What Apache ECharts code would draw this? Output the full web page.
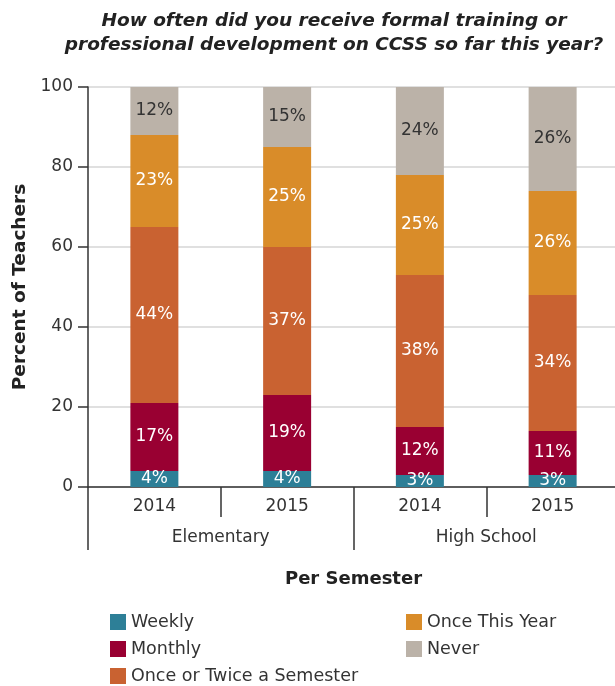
<!DOCTYPE html>
<html>
<head>
<meta charset="utf-8">
<script src="https://cdn.jsdelivr.net/npm/echarts@6/dist/echarts.min.js"></script>
<style>
  html, body { margin: 0; padding: 0; background: #fff; }
  #chart { width: 615px; height: 686px; }
</style>
</head>
<body>
<div id="chart"></div>
<script>
// Survey years, one bar per year within each school level
const years = ['2014', '2015', '2014', '2015'];
const levels = ['Elementary', 'High School'];
const yTicks = [0, 20, 40, 60, 80, 100];

// Share of teachers (%) for each frequency, stacked bottom to top
const weekly = [4, 4, 3, 3];
const monthly = [17, 19, 12, 11];
const onceTwiceSemester = [44, 37, 38, 34];
const onceThisYear = [23, 25, 25, 26];
const never = [12, 15, 24, 26];

const FONT = '"DejaVu Sans", sans-serif';
const TEXT = '#333333';

const seriesDefs = [
  { name: 'Weekly', data: weekly, color: '#2d7f97', label: '#ffffff' },
  { name: 'Monthly', data: monthly, color: '#990032', label: '#ffffff' },
  { name: 'Once or Twice a Semester', data: onceTwiceSemester, color: '#c96231', label: '#ffffff' },
  { name: 'Once This Year', data: onceThisYear, color: '#d98c29', label: '#ffffff' },
  { name: 'Never', data: never, color: '#bbb2a8', label: '#333333' }
];

const legendText = { fontFamily: FONT, fontSize: 17.5, color: TEXT };

const legendBase = {
  orient: 'vertical',
  top: 613,
  height: 110,
  padding: 0,
  itemWidth: 16,
  itemHeight: 16,
  itemGap: 9,
  icon: 'rect',
  textStyle: legendText
};

const chart = echarts.init(document.getElementById('chart'));

chart.setOption({
  animation: false,
  textStyle: { fontFamily: FONT },
  title: {
    text: 'How often did you receive formal training or\nprofessional development on CCSS so far this year?',
    left: 329,
    top: 4,
    textAlign: 'center',
    textStyle: {
      fontFamily: FONT,
      fontSize: 18.5,
      fontStyle: 'italic',
      fontWeight: 'bold',
      color: '#222222',
      lineHeight: 24
    }
  },
  legend: [
    Object.assign({}, legendBase, {
      data: ['Weekly', 'Monthly', 'Once or Twice a Semester'],
      left: 110
    }),
    Object.assign({}, legendBase, {
      data: ['Once This Year', 'Never'],
      left: 406
    })
  ],
  // the plot runs a few pixels past the right edge of the page
  grid: {
    left: 88, width: 531, top: 87, height: 400,
    containLabel: false,
    outerBoundsMode: 'none'
  },
  xAxis: [
    {
      type: 'category',
      data: years,
      position: 'bottom',
      axisLine: { show: true, lineStyle: { color: '#333333', width: 1.5 } },
      axisTick: { show: true, length: 30, lineStyle: { color: '#333333', width: 1.5 } },
      axisLabel: { fontFamily: FONT, fontSize: 17, color: TEXT, margin: 11 },
      splitLine: { show: false }
    },
    {
      type: 'category',
      data: levels,
      position: 'bottom',
      axisLine: { show: false },
      axisTick: { show: true, length: 63, lineStyle: { color: '#333333', width: 1.5 } },
      axisLabel: { fontFamily: FONT, fontSize: 17, color: TEXT, margin: 42 },
      name: 'Per Semester',
      nameLocation: 'middle',
      nameGap: 83,
      nameTextStyle: { fontFamily: FONT, fontSize: 18, fontWeight: 'bold', color: '#222222' }
    }
  ],
  yAxis: {
    type: 'value',
    min: 0,
    max: 100,
    interval: 20,
    name: 'Percent of Teachers',
    nameLocation: 'middle',
    nameGap: 58,
    nameTextStyle: { fontFamily: FONT, fontSize: 18.5, fontWeight: 'bold', color: '#222222' },
    axisLine: { show: true, lineStyle: { color: '#333333', width: 1.5 } },
    axisTick: { show: true, inside: false, length: 10, lineStyle: { color: '#333333', width: 1.5 } },
    axisLabel: {
      fontFamily: FONT, fontSize: 17, color: TEXT, margin: 15,
      customValues: yTicks
    },
    splitLine: { show: true, lineStyle: { color: '#d6d6d6', width: 1.5 } }
  },
  series: seriesDefs.map(s => ({
    name: s.name,
    type: 'bar',
    stack: 'total',
    barWidth: 48,
    data: s.data,
    clip: true,
    itemStyle: { color: s.color },
    label: {
      show: true,
      position: 'inside',
      formatter: '{c}%',
      fontFamily: FONT,
      fontSize: 17,
      color: s.label
    },
    emphasis: { disabled: true }
  }))
});
</script>
</body>
</html>
